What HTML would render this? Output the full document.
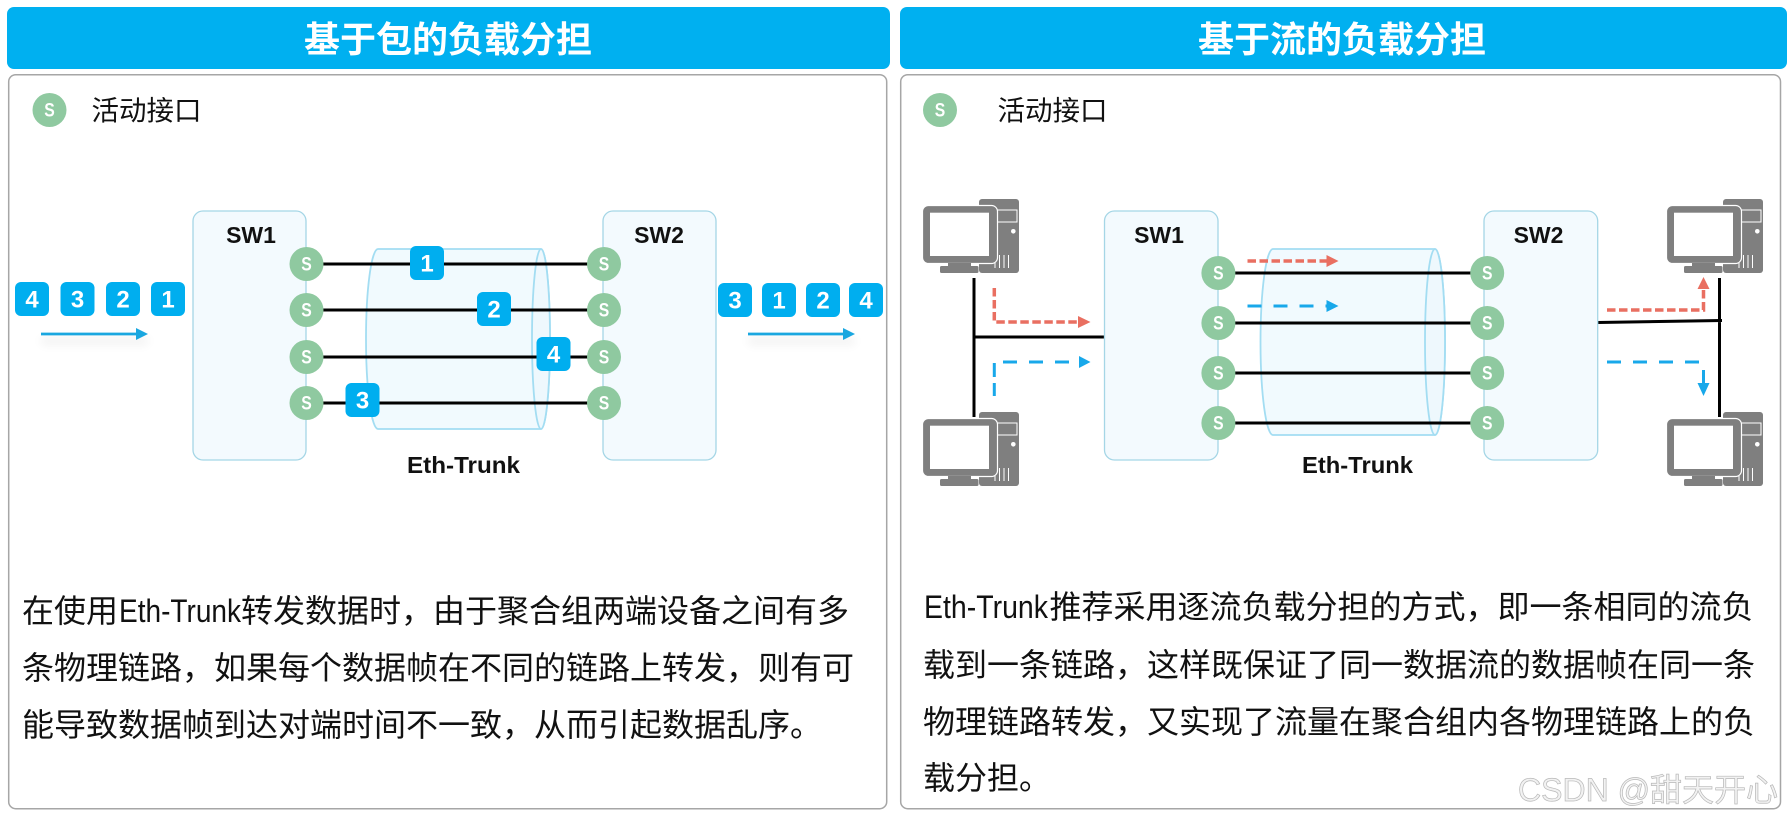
<!DOCTYPE html>
<html lang="zh"><head><meta charset="utf-8"><title>负载分担</title>
<style>
html,body{margin:0;padding:0;background:#fff;width:1787px;height:817px;overflow:hidden}
svg{display:block}
text{font-family:"Liberation Sans","Noto Sans CJK SC",sans-serif}
.title{font-size:36px;font-weight:700;fill:#fff}
.leg{font-size:27.5px;fill:#111}
.body{font-size:32px;fill:#111}
.lab{font-size:23px;font-weight:700;fill:#111}
.s{font-size:19px;font-weight:700;fill:#fff;text-anchor:middle}
.n{font-size:24px;font-weight:700;fill:#fff;text-anchor:middle}
.sw{fill:#F3FAFE;stroke:#A5D6E6;stroke-width:1.3}
.cy{fill:#F1FAFE;stroke:#A3DDF2;stroke-width:1.8}
.ln{stroke:#000;stroke-width:3;fill:none}
.pk{fill:#00AEEF}
.pt{fill:#8FC9A0}
.r{stroke:#E96F61;stroke-width:3.5;fill:none;stroke-dasharray:8.5 3.5}
.b{stroke:#18A8EA;stroke-width:3;fill:none;stroke-dasharray:14 12}
</style></head><body>
<svg width="1787" height="817" viewBox="0 0 1787 817" xmlns="http://www.w3.org/2000/svg">
<defs>
<filter id="bl" x="-30%" y="-200%" width="160%" height="500%"><feGaussianBlur stdDeviation="5"/></filter>
<g id="pc">
<rect x="56" y="0" width="40" height="74" rx="3" fill="#7f7f7f"/>
<rect x="74" y="11" width="20" height="12" fill="none" stroke="#fff" stroke-width="1"/>
<circle cx="90.300" cy="32.300" r="2.300" fill="#fff"/>
<path d="M72 56V69M76.500 56V69M81 56V69M85.500 56V69" stroke="#fff" stroke-width="1" fill="none"/>
<rect x="-0.500" y="6.500" width="75" height="58" rx="6" fill="#7f7f7f" stroke="#fff" stroke-width="1.200"/>
<rect x="7" y="13.700" width="59" height="43.300" fill="#fff"/>
<rect x="25" y="64" width="23" height="3" fill="#7f7f7f"/>
<rect x="17" y="67" width="38.500" height="7" rx="1.500" fill="#7f7f7f"/>
</g>
</defs>

<!-- LEFT PANEL -->
<rect x="7" y="7" width="883" height="62" rx="7" fill="#00B0F0"/>
<text class="title" x="304" y="52" textLength="288">基于包的负载分担</text>
<rect x="8.700" y="74.700" width="878" height="734" rx="7" fill="#fff" stroke="#A6A6A6" stroke-width="1.500"/>
<circle cx="49.500" cy="110" r="17" class="pt"/><text class="s" x="49.500" y="116.500" textLength="10.500" lengthAdjust="spacingAndGlyphs">S</text>
<text class="leg" x="91.500" y="120">活动接口</text>

<rect x="193" y="211" width="113" height="249" rx="10" class="sw"/>
<rect x="603" y="211" width="113" height="249" rx="10" class="sw"/>
<text class="lab" x="251" y="243" text-anchor="middle">SW1</text>
<text class="lab" x="659" y="243" text-anchor="middle">SW2</text>
<path class="cy" d="M378 249H541A9 90 0 0 1 541 429H378A12 90 0 0 1 378 249Z"/>
<ellipse class="cy" cx="541" cy="339" rx="9" ry="90" style="fill:#EEF8FD"/>
<path class="ln" d="M306 264H604M306 310H604M306 357H604M306 403H604"/>
<g class="pt"><circle cx="306.500" cy="264" r="17"/><circle cx="306.500" cy="310" r="17"/><circle cx="306.500" cy="357" r="17"/><circle cx="306.500" cy="403" r="17"/><circle cx="604" cy="264" r="17"/><circle cx="604" cy="310" r="17"/><circle cx="604" cy="357" r="17"/><circle cx="604" cy="403" r="17"/></g>
<g>
<text class="s" x="306.500" y="270.500" textLength="10.500" lengthAdjust="spacingAndGlyphs">S</text><text class="s" x="306.500" y="316.500" textLength="10.500" lengthAdjust="spacingAndGlyphs">S</text><text class="s" x="306.500" y="363.500" textLength="10.500" lengthAdjust="spacingAndGlyphs">S</text><text class="s" x="306.500" y="409.500" textLength="10.500" lengthAdjust="spacingAndGlyphs">S</text>
<text class="s" x="604" y="270.500" textLength="10.500" lengthAdjust="spacingAndGlyphs">S</text><text class="s" x="604" y="316.500" textLength="10.500" lengthAdjust="spacingAndGlyphs">S</text><text class="s" x="604" y="363.500" textLength="10.500" lengthAdjust="spacingAndGlyphs">S</text><text class="s" x="604" y="409.500" textLength="10.500" lengthAdjust="spacingAndGlyphs">S</text>
</g>
<rect class="pk" x="410" y="246" width="34" height="34" rx="6"/><text class="n" x="427" y="271.500">1</text>
<rect class="pk" x="477" y="292" width="34" height="34" rx="6"/><text class="n" x="494" y="317.500">2</text>
<rect class="pk" x="536.500" y="337" width="34" height="34" rx="6"/><text class="n" x="553.500" y="362.500">4</text>
<rect class="pk" x="345.500" y="383" width="34" height="34" rx="6"/><text class="n" x="362.500" y="408.500">3</text>

<rect class="pk" x="15" y="282" width="34" height="34" rx="6"/><text class="n" x="32" y="307.500">4</text>
<rect class="pk" x="60.500" y="282" width="34" height="34" rx="6"/><text class="n" x="77.500" y="307.500">3</text>
<rect class="pk" x="106" y="282" width="34" height="34" rx="6"/><text class="n" x="123" y="307.500">2</text>
<rect class="pk" x="151" y="282" width="34" height="34" rx="6"/><text class="n" x="168" y="307.500">1</text>
<rect class="pk" x="718" y="283" width="34" height="34" rx="6"/><text class="n" x="735" y="308.500">3</text>
<rect class="pk" x="762" y="283" width="34" height="34" rx="6"/><text class="n" x="779" y="308.500">1</text>
<rect class="pk" x="806" y="283" width="34" height="34" rx="6"/><text class="n" x="823" y="308.500">2</text>
<rect class="pk" x="849" y="283" width="34" height="34" rx="6"/><text class="n" x="866" y="308.500">4</text>

<g fill="#000" opacity=".07" filter="url(#bl)"><rect x="41" y="338" width="107" height="6"/><rect x="748" y="338" width="107" height="6"/></g>
<path d="M41 334H138" stroke="#1AA7E0" stroke-width="2.800" fill="none"/><polygon points="136,328 148,334 136,340" fill="#1AA7E0"/>
<path d="M748 334H845" stroke="#1AA7E0" stroke-width="2.800" fill="none"/><polygon points="843,328 855,334 843,340" fill="#1AA7E0"/>
<text class="lab" x="407" y="473" textLength="113" lengthAdjust="spacingAndGlyphs">Eth-Trunk</text>

<text class="body" x="22" y="622">在使用</text>
<text class="body" x="119" y="622" textLength="122" lengthAdjust="spacingAndGlyphs">Eth-Trunk</text>
<text class="body" x="241" y="622">转发数据时，由于聚合组两端设备之间有多</text>
<text class="body" x="22" y="679">条物理链路，如果每个数据帧在不同的链路上转发，则有可</text>
<text class="body" x="22" y="736">能导致数据帧到达对端时间不一致，从而引起数据乱序。</text>

<!-- RIGHT PANEL -->
<rect x="900" y="7" width="887" height="62" rx="7" fill="#00B0F0"/>
<text class="title" x="1198" y="52" textLength="288">基于流的负载分担</text>
<rect x="900.700" y="74.700" width="879.800" height="734" rx="7" fill="#fff" stroke="#A6A6A6" stroke-width="1.500"/>
<circle cx="940" cy="110" r="17" class="pt"/><text class="s" x="940" y="116.500" textLength="10.500" lengthAdjust="spacingAndGlyphs">S</text>
<text class="leg" x="997.500" y="120">活动接口</text>

<use href="#pc" x="923" y="199"/><use href="#pc" x="923" y="412"/>
<use href="#pc" x="1667" y="199"/><use href="#pc" x="1667" y="412"/>
<path class="ln" d="M974 278V417M974 337H1105M1719.500 278V417M1598 322.500L1722 320.500"/>

<rect x="1104.500" y="211" width="113.500" height="249" rx="10" class="sw"/>
<rect x="1484" y="211" width="113.700" height="249" rx="10" class="sw"/>
<text class="lab" x="1159" y="243" text-anchor="middle">SW1</text>
<text class="lab" x="1538.500" y="243" text-anchor="middle">SW2</text>
<path class="cy" d="M1273 249H1435A10 93 0 0 1 1435 435H1273A12.500 93 0 0 1 1273 249Z"/>
<ellipse class="cy" cx="1435" cy="342" rx="10" ry="93" style="fill:#EEF8FD"/>
<path class="ln" d="M1218 273H1487M1218 323H1487M1218 373H1487M1218 423H1487"/>
<g class="pt"><circle cx="1218.400" cy="273" r="17"/><circle cx="1218.400" cy="323" r="17"/><circle cx="1218.400" cy="373" r="17"/><circle cx="1218.400" cy="423" r="17"/><circle cx="1487.200" cy="273" r="17"/><circle cx="1487.200" cy="323" r="17"/><circle cx="1487.200" cy="373" r="17"/><circle cx="1487.200" cy="423" r="17"/></g>
<g>
<text class="s" x="1218.400" y="279.500" textLength="10.500" lengthAdjust="spacingAndGlyphs">S</text><text class="s" x="1218.400" y="329.500" textLength="10.500" lengthAdjust="spacingAndGlyphs">S</text><text class="s" x="1218.400" y="379.500" textLength="10.500" lengthAdjust="spacingAndGlyphs">S</text><text class="s" x="1218.400" y="429.500" textLength="10.500" lengthAdjust="spacingAndGlyphs">S</text>
<text class="s" x="1487.200" y="279.500" textLength="10.500" lengthAdjust="spacingAndGlyphs">S</text><text class="s" x="1487.200" y="329.500" textLength="10.500" lengthAdjust="spacingAndGlyphs">S</text><text class="s" x="1487.200" y="379.500" textLength="10.500" lengthAdjust="spacingAndGlyphs">S</text><text class="s" x="1487.200" y="429.500" textLength="10.500" lengthAdjust="spacingAndGlyphs">S</text>
</g>

<path class="r" d="M994.300 288V322H1079"/><polygon points="1078,316 1090.500,322 1078,328" fill="#E96F61"/>
<path d="M994.300 396V383M994.300 377V363" stroke="#18A8EA" stroke-width="3" fill="none"/><path class="b" d="M1003 362H1079"/><polygon points="1079,356 1090.500,362 1079,368" fill="#18A8EA"/>
<path class="r" d="M1247.500 261H1327"/><polygon points="1326.500,255 1338.500,261 1326.500,267" fill="#E96F61"/>
<path class="b" d="M1247.500 306H1327"/><polygon points="1326.500,300 1338.500,306 1326.500,312" fill="#18A8EA"/>
<path class="r" d="M1607 310H1703.500V289"/><polygon points="1697.500,289 1703.500,277 1709.500,289" fill="#E96F61"/>
<path class="b" d="M1607 362H1703"/><path d="M1703.500 370V384" stroke="#18A8EA" stroke-width="3" fill="none"/><polygon points="1697.500,383 1703.500,396 1709.500,383" fill="#18A8EA"/>

<text class="lab" x="1302" y="473" textLength="111" lengthAdjust="spacingAndGlyphs">Eth-Trunk</text>

<text class="body" x="924" y="618" textLength="124" lengthAdjust="spacingAndGlyphs">Eth-Trunk</text>
<text class="body" x="1049.500" y="618">推荐采用逐流负载分担的方式，即一条相同的流负</text>
<text class="body" x="923" y="676">载到一条链路，这样既保证了同一数据流的数据帧在同一条</text>
<text class="body" x="923" y="733">物理链路转发，又实现了流量在聚合组内各物理链路上的负</text>
<text class="body" x="923" y="789">载分担。</text>

<text x="1518" y="801" font-size="32" fill="#F2F2F2" stroke="#B8B8B8" stroke-width=".7">CSDN @甜天开心</text>
</svg>
</body></html>
